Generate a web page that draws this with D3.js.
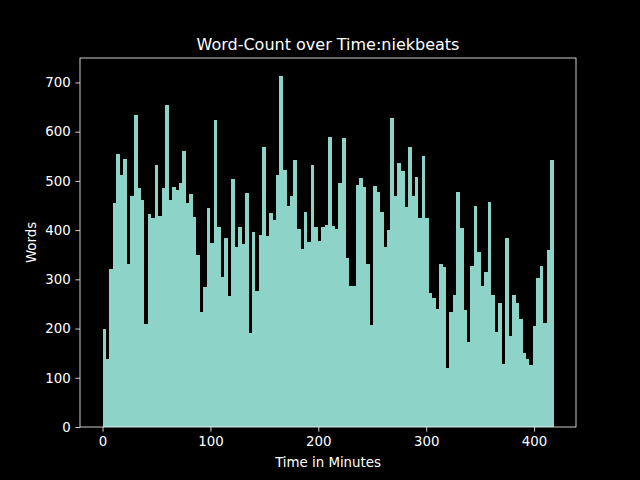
<!DOCTYPE html>
<html><head><meta charset="utf-8">
<script src="https://cdn.jsdelivr.net/npm/d3@7"></script>
<style>html,body{margin:0;padding:0;background:#000;}svg{display:block;}</style>
</head><body>
<script>
const title = "Word-Count over Time:niekbeats";
const xLabel = "Time in Minutes";
const yLabel = "Words";
const binWidth = 3.215; // minutes per bin
const words = [199,138,321,455,554,511,544,331,469,633,485,461,209,432,424,532,428,485,655,461,487,481,495,560,455,473,426,349,233,284,444,373,623,
406,304,385,266,503,365,406,371,475,191,396,276,390,568,388,434,420,511,714,523,448,469,542,402,361,436,375,532,406,377,406,
410,590,408,402,495,588,343,286,286,491,505,487,331,207,489,477,436,365,400,627,469,536,521,446,568,469,507,424,550,424,272,262,
239,331,325,120,233,268,477,404,237,172,327,448,355,286,315,457,268,193,252,128,383,185,268,252,219,150,138,126,205,302,327,211,359,542];
const xTicks = [0,100,200,300,400];
const yTicks = [0,100,200,300,400,500,600,700];

const W=640,H=480, L=80,R=576,T=58,B=427;
const svg=d3.select("body").append("svg").attr("width",W).attr("height",H).style("background","#000");
const xMax = words.length*binWidth;
const x=d3.scaleLinear().domain([-0.05*xMax,1.05*xMax]).range([L,R]);
const yMax=d3.max(words)*1.05;
const y=d3.scaleLinear().domain([0,yMax]).range([B,T]);

svg.append("g").selectAll("rect").data(words).join("rect")
 .attr("x",(d,i)=>x(i*binWidth)).attr("width",(d,i)=>x((i+1)*binWidth)-x(i*binWidth)+0.3)
 .attr("y",d=>y(d)).attr("height",d=>y(0)-y(d))
 .attr("fill","#8dd3c7").attr("shape-rendering","crispEdges");

const font="'DejaVu Sans', sans-serif";
const xa=svg.append("g").attr("transform",`translate(0,${B})`)
 .call(d3.axisBottom(x).tickValues(xTicks).tickFormat(d3.format("d")).tickSize(4.67).tickPadding(4.67));
const ya=svg.append("g").attr("transform",`translate(${L},0)`)
 .call(d3.axisLeft(y).tickValues(yTicks).tickFormat(d3.format("d")).tickSize(4.67).tickPadding(4.67));
[xa,ya].forEach(a=>{a.select(".domain").remove();a.selectAll("line").attr("stroke","#fff").attr("stroke-width",0.8);
 a.selectAll("text").attr("fill","#fff").style("font-family",font).style("font-size","13.33px");});
svg.append("rect").attr("x",L).attr("y",T).attr("width",R-L).attr("height",B-T)
 .attr("fill","none").attr("stroke","#fff").attr("stroke-width",0.8);

svg.append("text").attr("x",(L+R)/2).attr("y",50).attr("text-anchor","middle")
 .attr("fill","#fff").style("font-family",font).style("font-size","16px").text(title);
svg.append("text").attr("x",(L+R)/2).attr("y",467).attr("text-anchor","middle")
 .attr("fill","#fff").style("font-family",font).style("font-size","13.33px").text(xLabel);
svg.append("text").attr("transform",`translate(36,${(T+B)/2}) rotate(-90)`).attr("text-anchor","middle")
 .attr("fill","#fff").style("font-family",font).style("font-size","13.33px").text(yLabel);
</script>
</body></html>
